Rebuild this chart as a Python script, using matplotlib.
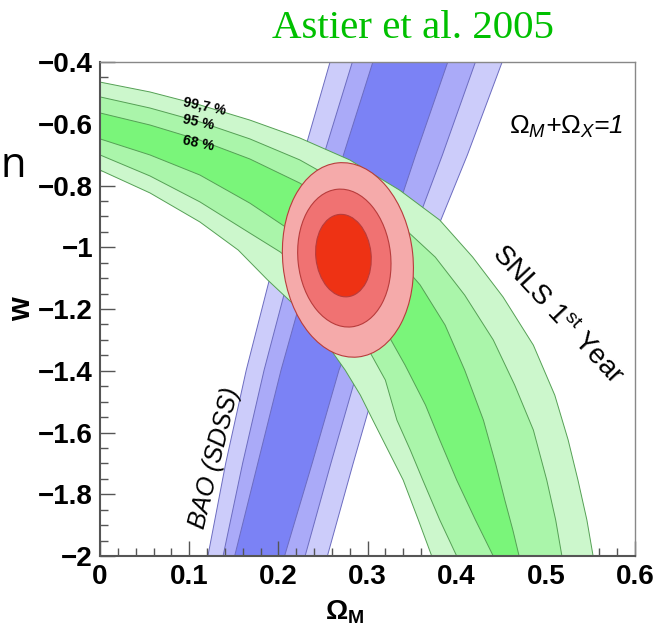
import matplotlib
matplotlib.use("Agg")
import matplotlib.pyplot as plt
import numpy as np
from matplotlib.patches import Ellipse
from matplotlib.transforms import Affine2D
from matplotlib.ticker import MultipleLocator

plt.rcParams["font.family"] = ["Liberation Sans", "DejaVu Sans"]
plt.rcParams["mathtext.fontset"] = "custom"
plt.rcParams["mathtext.rm"] = "Liberation Sans"
plt.rcParams["mathtext.it"] = "Liberation Sans:italic"
plt.rcParams["mathtext.bf"] = "Liberation Sans:bold"

# SNLS 1st year contours (Omega_M, w), upper and lower edge of each level
snls_99_up_om = [0, .056, .112, .168, .224, .280, .336, .381, .418, .452, .486, .510, .525, .536, .546, .553]
snls_99_up_w = [-.465, -.497, -.539, -.588, -.646, -.717, -.815, -.912, -1.032, -1.161, -1.317, -1.479, -1.624, -1.754, -1.883, -2.0]
snls_95_up_om = [0, .056, .112, .168, .224, .280, .336, .376, .409, .441, .465, .486, .501, .511, .518]
snls_95_up_w = [-.513, -.549, -.594, -.649, -.717, -.808, -.925, -1.032, -1.155, -1.300, -1.446, -1.592, -1.754, -1.883, -2.0]
snls_68_up_om = [0, .056, .112, .168, .224, .280, .325, .359, .387, .409, .430, .444, .454, .463, .470]
snls_68_up_w = [-.565, -.604, -.653, -.714, -.792, -.896, -1.009, -1.122, -1.252, -1.398, -1.560, -1.705, -1.819, -1.916, -2.0]
snls_68_lo_om = [0, .056, .112, .168, .213, .258, .292, .320, .342, .365, .381, .400, .421, .441]
snls_68_lo_w = [-.649, -.701, -.766, -.857, -.944, -1.048, -1.155, -1.268, -1.381, -1.511, -1.624, -1.754, -1.883, -2.0]
snls_95_lo_om = [0, .056, .112, .168, .202, .236, .269, .297, .320, .333, .348, .362, .381, .400]
snls_95_lo_w = [-.701, -.769, -.853, -.954, -1.015, -1.096, -1.197, -1.310, -1.430, -1.560, -1.657, -1.754, -1.883, -2.0]
snls_99_lo_om = [0, .056, .112, .155, .188, .219, .247, .275, .292, .306, .323, .340, .357, .372]
snls_99_lo_w = [-.750, -.824, -.918, -1.009, -1.106, -1.190, -1.284, -1.398, -1.479, -1.560, -1.657, -1.754, -1.883, -2.0]

# BAO (SDSS) band edges: Omega_M at fixed w levels
bao_w = [-0.4, -0.701, -1.048, -1.398, -1.699, -2.0]
bao_99_left = [.258, .228, .195, .164, .141, .121]
bao_95_left = [.283, .251, .216, .184, .160, .138]
bao_68_left = [.306, .273, .237, .203, .177, .151]
bao_68_right = [.390, .354, .314, .268, .238, .207]
bao_95_right = [.421, .384, .339, .289, .259, .230]
bao_99_right = [.451, .412, .363, .314, .284, .255]

# combined constraint: centre, half width in Omega_M, half height in w
comb_om = [0.278, 0.274, 0.273]
comb_w = [-1.041, -1.035, -1.027]
comb_half_om = [0.073, 0.052, 0.031]
comb_half_w = [0.316, 0.224, 0.134]
comb_tilt = 6

levels = ["99,7 %", "95 %", "68 %"]
x_ticks = [0, 0.1, 0.2, 0.3, 0.4, 0.5, 0.6]
x_tick_labels = ["0", "0.1", "0.2", "0.3", "0.4", "0.5", "0.6"]
y_ticks = [-0.4, -0.6, -0.8, -1.0, -1.2, -1.4, -1.6, -1.8, -2.0]
y_tick_labels = ["\u22120.4", "\u22120.6", "\u22120.8", "\u22121", "\u22121.2",
                 "\u22121.4", "\u22121.6", "\u22121.8", "\u22122"]

green = ["#ccf7cc", "#aaf5aa", "#7af57a"]
blue = ["#ccccfa", "#aaaaf8", "#7b82f5"]
red = ["#f5aaaa", "#f07272", "#ee3214"]


def band(ax, x1, y1, x2, y2, face, edge, z):
    xs = np.concatenate([np.asarray(x1), np.asarray(x2)[::-1]])
    ys = np.concatenate([np.asarray(y1), np.asarray(y2)[::-1]])
    ax.fill(xs, ys, color=face, lw=0, zorder=z)
    ax.plot(x1, y1, color=edge, lw=0.7, zorder=z)
    ax.plot(x2, y2, color=edge, lw=0.7, zorder=z)


fig = plt.figure(figsize=(6.61, 6.27), dpi=100)
ax = fig.add_axes([0.1513, 0.1132, 0.8094, 0.7879])
ax.set_xlim(0, 0.6)
ax.set_ylim(-2, -0.4)

# BAO band
band(ax, bao_99_left, bao_w, bao_99_right, bao_w, blue[0], "#6c6cc0", 1)
band(ax, bao_95_left, bao_w, bao_95_right, bao_w, blue[1], "#6c6cc0", 1.1)
band(ax, bao_68_left, bao_w, bao_68_right, bao_w, blue[2], "#6c6cc0", 1.2)

# SNLS band
band(ax, snls_99_up_om, snls_99_up_w, snls_99_lo_om, snls_99_lo_w, green[0], "#55a055", 2)
band(ax, snls_95_up_om, snls_95_up_w, snls_95_lo_om, snls_95_lo_w, green[1], "#55a055", 2.1)
band(ax, snls_68_up_om, snls_68_up_w, snls_68_lo_om, snls_68_lo_w, green[2], "#55a055", 2.2)

# combined contours, drawn in pixel-proportional units so the tilt is kept
om_per_px = 0.6 / (0.8094 * 661)
w_per_px = 1.6 / (0.7879 * 627)
for i in range(3):
    tr = (Affine2D().scale(om_per_px, w_per_px)
          .translate(comb_om[i], comb_w[i]) + ax.transData)
    ax.add_patch(Ellipse((0, 0), 2 * comb_half_om[i] / om_per_px,
                         2 * comb_half_w[i] / w_per_px, angle=comb_tilt,
                         transform=tr, facecolor=red[i], edgecolor="#b83c3c",
                         lw=0.8, zorder=3 + i * 0.1))

# axes styling
for side in ["left", "bottom"]:
    ax.spines[side].set_color("#555555")
    ax.spines[side].set_linewidth(1.5)
for side in ["top", "right"]:
    ax.spines[side].set_color("#888888")
    ax.spines[side].set_linewidth(1.0)
for s in ax.spines.values():
    s.set_zorder(6)

ax.set_xticks(x_ticks)
ax.set_xticklabels(x_tick_labels, fontweight="bold")
ax.set_yticks(y_ticks)
ax.set_yticklabels(y_tick_labels, fontweight="bold")
ax.xaxis.set_minor_locator(MultipleLocator(0.02))
ax.yaxis.set_minor_locator(MultipleLocator(0.05))
ax.tick_params(which="both", direction="in", top=False, right=False,
               color="#555555", width=1.0, labelsize=20, zorder=6)
ax.tick_params(which="major", length=10.5)
ax.tick_params(which="minor", length=5.5)
ax.tick_params(axis="x", pad=6)
ax.tick_params(axis="y", pad=5)

ax.set_xlabel(r"$\mathbf{\Omega_{M}}$", fontsize=20)
ax.xaxis.set_label_coords(0.458, -0.085)
ax.set_ylabel("w", fontsize=22, fontweight="bold")
ax.yaxis.set_label_coords(-0.117, 0.5)

# annotations
ax.text(0.978, 0.868, r"$\mathit{\Omega}_{\mathit{M}}$+$\mathit{\Omega}_{\mathit{X}}$=1",
        transform=ax.transAxes, ha="right", va="center", fontsize=19,
        style="italic", zorder=7)
ax.text(0.856, 0.488, r"SNLS 1$^{\mathrm{st}}$ Year", transform=ax.transAxes,
        ha="center", va="center", rotation=-47, fontsize=20, zorder=7)
ax.text(0.215, 0.198, "BAO (SDSS)", transform=ax.transAxes, ha="center",
        va="center", rotation=76, fontsize=18, style="italic", zorder=7)
for lab, (lx, ly) in zip(levels, [(0.196, 0.911), (0.183, 0.877), (0.183, 0.836)]):
    ax.text(lx, ly, lab, transform=ax.transAxes, ha="center", va="center",
            rotation=-12, fontsize=10, fontweight="bold", zorder=7)

fig.text(0.625, 0.939, "Astier et al. 2005", color="#00c000",
         family="Liberation Serif", fontsize=29.5, ha="center", va="baseline")
fig.text(0.0015, 0.718, "n", fontsize=30, family="Open Sans",
         ha="left", va="baseline")

fig.savefig("out.png", dpi=100)
